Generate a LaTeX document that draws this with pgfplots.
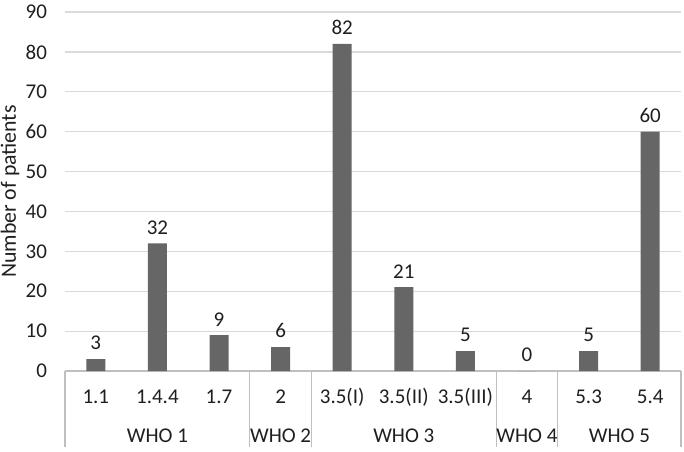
\documentclass[border=0pt]{standalone}
\usepackage{pgfplots}
\pgfplotsset{compat=1.18}
\usepackage{fontspec}
\setmainfont{Carlito}
\definecolor{barcol}{HTML}{666666}
\definecolor{gridcol}{HTML}{D9D9D9}
\definecolor{axcol}{HTML}{BFBFBF}
\definecolor{txt}{HTML}{1F1F1F}
\begin{document}
\begin{tikzpicture}
\begin{axis}[
    scale only axis,
    width=308pt, height=179.5pt,
    xmin=-0.5, xmax=9.5,
    ymin=0, ymax=90,
    ytick={0,10,...,90},
    xtick={0,...,9},
    xticklabels={1.1, 1.4.4, 1.7, 2, 3.5(I), 3.5(II), 3.5(III), 4, 5.3, 5.4},
    major tick length=0pt,
    axis y line*=left,
    axis x line*=bottom,
    y axis line style={draw=none},
    x axis line style={axcol, line width=0.6pt, -},
    ymajorgrids,
    grid style={gridcol, line width=0.6pt},
    /pgf/number format/assume math mode=true,
    tick label style={font=\fontsize{10.5}{12}\selectfont, text=txt},
    xticklabel style={anchor=base, yshift=-16pt},
    yticklabel style={anchor=east, xshift=-5.5pt},
    ylabel={Number of patients},
    ylabel style={font=\fontsize{10.9}{12}\selectfont, text=txt, at={(rel axis cs:0,0.5)}, anchor=center, yshift=27.5pt},
    nodes near coords,
    every node near coord/.append style={font=\fontsize{10.5}{12}\selectfont, text=txt, yshift=1pt},
    clip=false,
]
\addplot[ybar, bar width=9.5pt, fill=barcol, draw=none] coordinates {
    (0,3) (1,32) (2,9) (3,6) (4,82) (5,21) (6,5) (7,0) (8,5) (9,60)
};
\coordinate (O) at (rel axis cs:0,0);
\foreach \s in {-0.5,2.5,3.5,6.5,7.5,9.5}{
    \edef\tmp{\noexpand\draw[axcol, line width=0.6pt] (axis cs:\s,0) -- ++(0pt,-38pt);}
    \tmp
}
\foreach \x/\g in {1/WHO 1, 3/WHO 2, 5/WHO 3, 7/WHO 4, 8.5/WHO 5}{
    \edef\tmp{\noexpand\node[anchor=base, text=txt, font=\noexpand\fontsize{10.5}{12}\noexpand\selectfont, yshift=-35.5pt] at (axis cs:\x,0) {\g};}
    \tmp
}
\end{axis}
\pgfresetboundingbox
\path[use as bounding box] ([shift={(-32.5pt,-40pt)}]O) rectangle ++(342pt,225.5pt);
\end{tikzpicture}
\end{document}
